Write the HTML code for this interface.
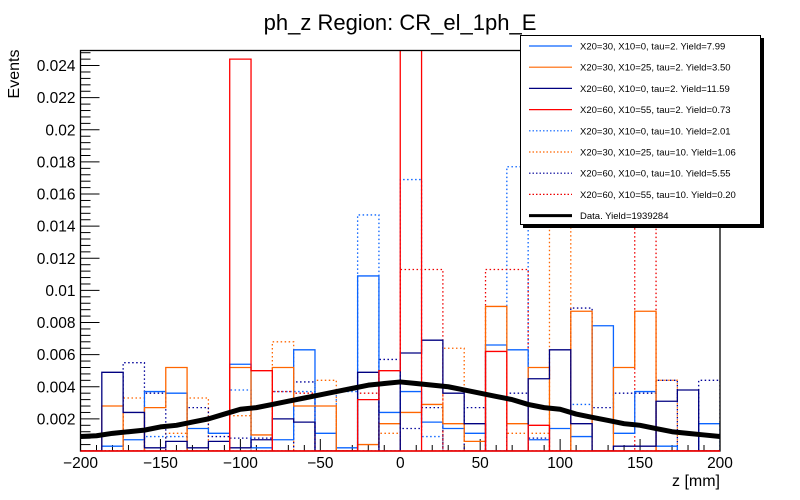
<!DOCTYPE html>
<html><head><meta charset="utf-8"><style>
html,body{margin:0;padding:0;background:#fff;}
svg{display:block;font-family:"Liberation Sans",Arial,sans-serif;}
</style></head><body>
<svg id="chart" width="800" height="500" viewBox="0 0 800 500">
<text x="400" y="30" font-size="22" text-anchor="middle">ph_z Region: CR_el_1ph_E</text>
<text transform="translate(19,74) rotate(-90)" font-size="16" text-anchor="middle">Events</text>
<text x="720" y="486" font-size="16" text-anchor="end">z [mm]</text>
<g id="plot"></g>
</svg>
<script>
const binEdges0 = -200, binEdges1 = 200, nBins = 30;
const blueSolid = [0,0.0003,0.0007,0.0037,0.0036,0.0014,0.0011,0.0054,0.0002,0.0007,0.0063,0.0011,0.0002,0.0109,0.0024,0.0037,0.0018,0.0014,0.0011,0.0066,0.0063,0.0007,0.0014,0.0009,0.0078,0.0011,0.0037,0.0003,0,0.0017];
const orangeSolid = [0,0.0028,0,0.0027,0.0052,0,0,0.0052,0.0010,0.0052,0.0028,0.0028,0,0.0004,0.0017,0.0024,0.0029,0.0017,0.0006,0.0090,0.0017,0.0052,0,0.0087,0,0.0052,0.0087,0,0,0];
const navySolid = [0,0.0049,0.0024,0.0002,0.0006,0.0002,0.0006,0.0002,0.0007,0.0020,0.0018,0,0,0.0049,0,0.0061,0.0069,0.0036,0.0017,0,0,0.0045,0.0063,0.0017,0,0.0003,0.0003,0.0031,0.0038,0];
const redSolid = [0,0,0,0,0,0,0,0.0244,0.0050,0,0,0,0,0.0032,0.0050,0.0300,0,0,0,0.0062,0,0.0016,0,0,0,0,0,0,0,0];
const blueDotted = [0,0,0,0.0009,0.0009,0,0,0.0038,0,0.0037,0.0037,0,0.0037,0.0147,0,0.0169,0.0009,0,0,0,0.0177,0,0,0.0029,0,0,0,0,0,0];
const orangeDotted = [0,0,0.0033,0,0.0011,0.0033,0,0.0022,0,0.0068,0,0.0044,0,0,0.0011,0,0,0.0064,0,0,0.0011,0.0011,0.0195,0,0,0,0,0.0044,0,0];
const navyDotted = [0,0,0.0055,0.0036,0,0.0027,0.0009,0.0008,0.0008,0,0.0043,0,0,0,0.0057,0.0014,0.0027,0,0.0027,0,0.0036,0.0008,0,0.0089,0.0027,0.0036,0.0036,0.0044,0,0.0044];
const redDotted = [0,0,0,0,0,0,0,0,0,0.0037,0.0036,0,0,0.0036,0,0.0113,0.0113,0,0,0.0113,0.0113,0,0,0,0,0,0.0200,0,0,0];
const dataX = [-200,-190,-180,-170,-160,-150,-140,-130,-120,-110,-100,-90,-80,-70,-60,-50,-40,-30,-20,-10,0,10,20,30,40,50,60,70,80,90,100,110,120,130,140,150,160,170,180,190,200];
const dataY = [0.0009,0.00095,0.0011,0.0012,0.0013,0.0015,0.0016,0.0018,0.0020,0.0023,0.0026,0.0027,0.0029,0.0031,0.0033,0.0035,0.0037,0.0039,0.0041,0.0042,0.0043,0.0042,0.0041,0.0040,0.0038,0.0036,0.0034,0.0032,0.0029,0.0027,0.0026,0.0023,0.0021,0.0019,0.0017,0.0016,0.0014,0.0012,0.0011,0.0010,0.0009];
const yTicks = [0.002,0.004,0.006,0.008,0.01,0.012,0.014,0.016,0.018,0.02,0.022,0.024];
const yTickLabels = ["0.002","0.004","0.006","0.008","0.01","0.012","0.014","0.016","0.018","0.02","0.022","0.024"];
const xTicks = [-200,-150,-100,-50,0,50,100,150,200];
const xTickLabels = ["\u2212200","\u2212150","\u2212100","\u221250","0","50","100","150","200"];
const legendLabels = ["X20=30, X10=0, tau=2. Yield=7.99","X20=30, X10=25, tau=2. Yield=3.50","X20=60, X10=0, tau=2. Yield=11.59","X20=60, X10=55, tau=2. Yield=0.73","X20=30, X10=0, tau=10. Yield=2.01","X20=30, X10=25, tau=10. Yield=1.06","X20=60, X10=0, tau=10. Yield=5.55","X20=60, X10=55, tau=10. Yield=0.20","Data. Yield=1939284"];

const L=80.5,R=720,T=50.5,B=451;
const ymax=(B-T)/16060;
function X(v){return L+(v-binEdges0)/(binEdges1-binEdges0)*(R-L);}
function Y(v){return B-(Math.min(v,ymax+0.001))/ymax*(B-T);}
const NS="http://www.w3.org/2000/svg";
const g=document.getElementById('plot');
function mk(tag,attrs,parent){const e=document.createElementNS(NS,tag);for(const k in attrs)e.setAttribute(k,attrs[k]);(parent||g).appendChild(e);return e;}

const clip=mk('clipPath',{id:'pc'});mk('rect',{x:L,y:T,width:R-L,height:B-T},clip);

const axes=mk('g',{});


for(let i=0;i<=62;i++){const v=i*0.0004;if(v>ymax)break;const y=Y(v);const major=(i%5===0);
 mk('line',{x1:L,x2:L+(major?19:10),y1:y,y2:y,stroke:'#000','stroke-width':1},axes);}
yTicks.forEach((v,i)=>{const t=mk('text',{x:L-5,y:Y(v)+5.5,'font-size':15.5,'text-anchor':'end'},axes);t.textContent=yTickLabels[i];
 
 });
for(let v=-200;v<=200;v+=10){const x=X(v);const major=(v%50===0);
 mk('line',{x1:x,x2:x,y1:B,y2:B-(major?12:6),stroke:'#000','stroke-width':1},axes);}
xTicks.forEach((v,i)=>{const t=mk('text',{x:X(v),y:468,'font-size':15.5,'text-anchor':'middle'},axes);t.textContent=xTickLabels[i];
 
 });

function hist(vals,color,dotted,name){
 const w=(R-L)/nBins;let d='M'+L+','+B;
 vals.forEach((v,i)=>{const x0=L+i*w,x1=x0+w,y=Y(v);d+=' L'+x0+','+y+' L'+x1+','+y;});
 d+=' L'+R+','+B;
 const p=mk('path',{d:d,fill:'none',stroke:color,'stroke-width':1.3,'stroke-dasharray':dotted?'1.5,2.5':'none','clip-path':'url(#pc)'});
 
 
}
hist(blueDotted,'#0a64ff',true,'series-x20-30-x10-0-tau10');
hist(orangeDotted,'#ff6600',true,'series-x20-30-x10-25-tau10');
hist(navyDotted,'#000099',true,'series-x20-60-x10-0-tau10');
hist(redDotted,'#ee0000',true,'series-x20-60-x10-55-tau10');
hist(blueSolid,'#0a64ff',false,'series-x20-30-x10-0-tau2');
hist(orangeSolid,'#ff6600',false,'series-x20-30-x10-25-tau2');
hist(navySolid,'#000080',false,'series-x20-60-x10-0-tau2');
hist(redSolid,'#ff0000',false,'series-x20-60-x10-55-tau2');

let dd='';dataX.forEach((v,i)=>{dd+=(i?' L':'M')+X(v)+','+Y(dataY[i]);});
const dl=mk('path',{d:dd,fill:'none',stroke:'#000','stroke-width':5,'stroke-linejoin':'round'});



const fr=mk('rect',{x:L,y:T,width:R-L,height:B-T,fill:'none',stroke:'#000','stroke-width':1.3});


mk('line',{x1:L,x2:R,y1:B,y2:B,stroke:'#ff0000','stroke-width':1.5});

const lg=mk('g',{});


mk('rect',{x:523,y:38,width:241,height:190,fill:'#000'},lg);
mk('rect',{x:520.5,y:35.5,width:240,height:189,fill:'#fff',stroke:'#000','stroke-width':1},lg);
const lcol=['#0a64ff','#ff6600','#000080','#ff0000','#0a64ff','#ff6600','#000099','#ee0000','#000'];
legendLabels.forEach((s,i)=>{const y=46+i*21.2;
 const e=mk('g',{},lg);
 
 
 mk('line',{x1:529,x2:572,y1:y,y2:y,stroke:lcol[i],'stroke-width':i===8?3:1.2,'stroke-dasharray':(i>=4&&i<8)?'1.5,2':'none'},e);
 const t=mk('text',{x:580,y:y+3.5,'font-size':9.5},e);t.textContent=s;});
</script>
</body></html>
